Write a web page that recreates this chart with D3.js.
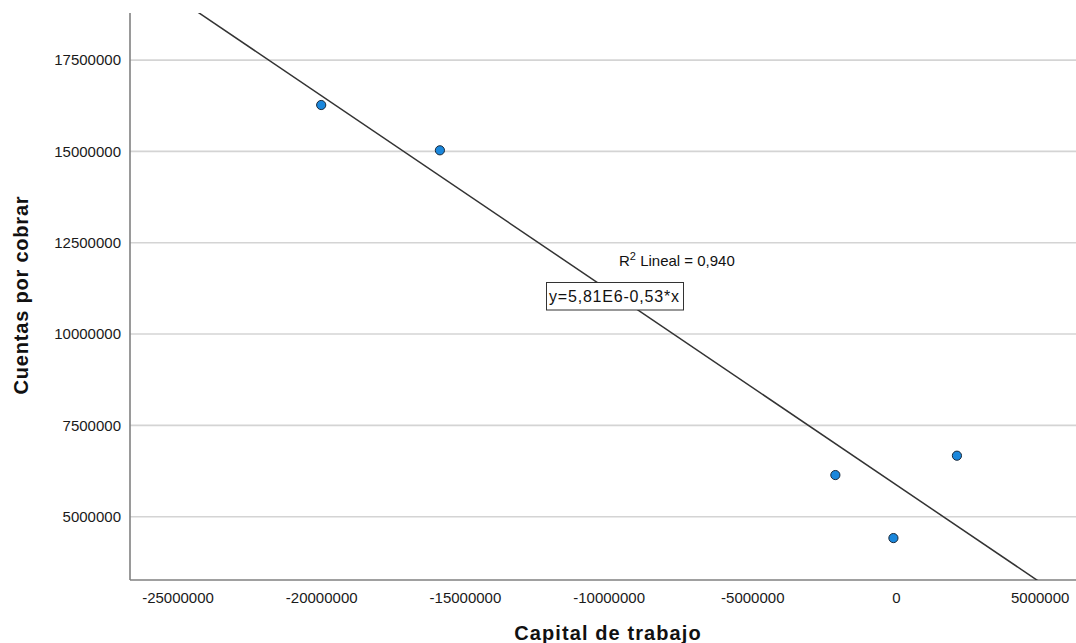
<!DOCTYPE html>
<html>
<head>
<meta charset="utf-8">
<script src="https://cdn.jsdelivr.net/npm/d3@7"></script>
<style>
  html, body { margin: 0; padding: 0; background: #fff; }
  svg { display: block; font-family: Arial, "Liberation Sans", sans-serif; }
</style>
</head>
<body>
<svg id="chart" width="1076" height="643"></svg>
<script>
// ---- data ----
const capitalTrabajo = [-20000000, -15870000, -2110000, -90000, 2120000];
const cuentasCobrar  = [16270000, 15030000, 6140000, 4415000, 6670000];
const xTicks = [-25000000, -20000000, -15000000, -10000000, -5000000, 0, 5000000];
const yTicks = [5000000, 7500000, 10000000, 12500000, 15000000, 17500000];
const fitLabel = ["y=5,81E6-0,53*x"];
const r2Label = ["Lineal = 0,940"];
const xTitle = ["Capital de trabajo"];
const yTitle = ["Cuentas por cobrar"];

(function () {
// ---- layout ----
const pLeft = 130, pRight = 1076, pTop = 13, pBottom = 580;
const pxPerMx = 28.74, x0px = 896;
const pxPerMy = 36.53, y5px = 516.7;

const x = d3.scaleLinear()
  .domain([(pLeft - x0px) / pxPerMx * 1e6, (pRight - x0px) / pxPerMx * 1e6])
  .range([pLeft, pRight]);
const y = d3.scaleLinear()
  .domain([5e6 - (pBottom - y5px) / pxPerMy * 1e6, 5e6 + (y5px - pTop) / pxPerMy * 1e6])
  .range([pBottom, pTop]);

// least-squares fit from the data
const mx = d3.mean(capitalTrabajo), my = d3.mean(cuentasCobrar);
let sxy = 0, sxx = 0;
capitalTrabajo.forEach((v, i) => { sxy += (v - mx) * (cuentasCobrar[i] - my); sxx += (v - mx) * (v - mx); });
const slope = sxy / sxx, intercept = my - slope * mx;

const fmt = d => String(d);
const svg = d3.select("#chart");

// gridlines
svg.append("g").selectAll("line").data(yTicks).join("line")
  .attr("x1", pLeft).attr("x2", pRight)
  .attr("y1", d => y(d)).attr("y2", d => y(d))
  .attr("stroke", "#d4d4d4").attr("stroke-width", 1.6);

// axes via d3 axis
const yAxis = d3.axisLeft(y).tickValues(yTicks).tickSize(0).tickPadding(9).tickFormat(fmt);
const gy = svg.append("g").attr("transform", `translate(${pLeft},0)`).call(yAxis);
gy.select(".domain").remove();
gy.selectAll("text").attr("font-size", 15).attr("fill", "#1a1a1a").attr("font-family", "Arial, 'Liberation Sans', sans-serif");

const xAxis = d3.axisBottom(x).tickValues(xTicks).tickSize(0).tickPadding(12).tickFormat(fmt);
const gx = svg.append("g").attr("transform", `translate(0,${pBottom})`).call(xAxis);
gx.select(".domain").remove();
gx.selectAll("text").attr("font-size", 15).attr("fill", "#1a1a1a").attr("font-family", "Arial, 'Liberation Sans', sans-serif");

// axis lines
svg.append("line").attr("x1", pLeft).attr("x2", pLeft).attr("y1", pTop).attr("y2", pBottom)
  .attr("stroke", "#808080").attr("stroke-width", 1.6);
svg.append("line").attr("x1", pLeft).attr("x2", pRight).attr("y1", pBottom).attr("y2", pBottom)
  .attr("stroke", "#808080").attr("stroke-width", 1.6);

// clip
svg.append("clipPath").attr("id", "plotclip").append("rect")
  .attr("x", pLeft).attr("y", pTop).attr("width", pRight - pLeft).attr("height", pBottom - pTop);

// fit line
const xd = x.domain();
const fitPts = [xd[0], xd[1]].map(v => [v, intercept + slope * v]);
svg.append("path")
  .attr("clip-path", "url(#plotclip)")
  .attr("d", d3.line().x(d => x(d[0])).y(d => y(d[1]))(fitPts))
  .attr("fill", "none").attr("stroke", "#333").attr("stroke-width", 1.5);

// points
svg.append("g").selectAll("circle").data(capitalTrabajo.map((v, i) => [v, cuentasCobrar[i]])).join("circle")
  .attr("cx", d => x(d[0])).attr("cy", d => y(d[1])).attr("r", 4.6)
  .attr("fill", "#1a87dc").attr("stroke", "#1b2a3a").attr("stroke-width", 1);

// R2 label
const r2 = svg.append("text").attr("x", 619).attr("y", 266).attr("font-size", 15).attr("fill", "#111");
r2.append("tspan").text("R");
r2.append("tspan").attr("dy", -6).attr("font-size", 11).text("2");
r2.append("tspan").attr("dy", 6).text(" " + r2Label[0]);

// fit label box
const bx = svg.append("g");
bx.append("rect").attr("x", 546.5).attr("y", 282.5).attr("width", 137).attr("height", 27.5)
  .attr("fill", "#fff").attr("stroke", "#333").attr("stroke-width", 1);
bx.append("text").attr("x", 549).attr("y", 302).attr("font-size", 16).attr("letter-spacing", 0.8)
  .attr("fill", "#111").text(fitLabel[0]);

// axis titles
svg.append("text").attr("x", 608).attr("y", 640).attr("text-anchor", "middle")
  .attr("font-size", 20).attr("letter-spacing", 1.1).attr("font-weight", "bold").attr("fill", "#111").text(xTitle[0]);
svg.append("text").attr("transform", "translate(28,295) rotate(-90)").attr("text-anchor", "middle")
  .attr("font-size", 20).attr("letter-spacing", 0.8).attr("font-weight", "bold").attr("fill", "#111").text(yTitle[0]);
})();
</script>
</body>
</html>
